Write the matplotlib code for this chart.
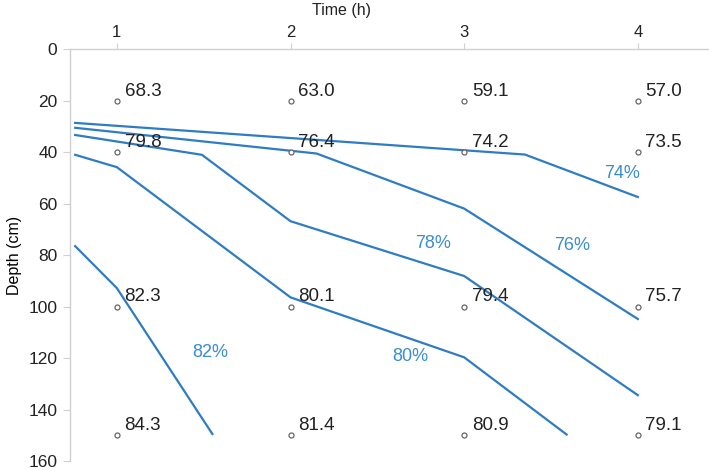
import matplotlib
matplotlib.use("Agg")
import matplotlib.pyplot as plt

plt.rcParams['font.family'] = ['Liberation Sans', 'DejaVu Sans']

# Grid of measurements
times = [1, 2, 3, 4]
depths = [20, 40, 100, 150]
values = [
    [68.3, 63.0, 59.1, 57.0],
    [79.8, 76.4, 74.2, 73.5],
    [82.3, 80.1, 79.4, 75.7],
    [84.3, 81.4, 80.9, 79.1],
]

# Contour lines (time, depth)
c74_t = [0.76, 3.35, 4.0]
c74_d = [28.6, 40.9, 57.4]
c76_t = [0.76, 2.15, 3.0, 4.0]
c76_d = [30.5, 40.5, 61.9, 104.8]
c78_t = [0.76, 1.49, 2.0, 3.0, 4.0]
c78_d = [33.3, 41.0, 66.8, 88.1, 134.4]
c80_t = [0.76, 1.0, 2.0, 3.0, 3.59]
c80_d = [41.0, 45.8, 96.4, 119.7, 149.7]
c82_t = [0.76, 1.0, 1.55]
c82_d = [76.5, 92.8, 149.5]

contour_labels = ['74%', '76%', '78%', '80%', '82%']
label_t = [3.91, 3.62, 2.82, 2.69, 1.54]
label_d = [48.2, 76.4, 75.4, 119.2, 117.9]

y_ticks = [0, 20, 40, 60, 80, 100, 120, 140, 160]

line_color = '#2e7cc4'
label_color = '#3a8cd2'

fig = plt.figure(figsize=(7.09, 4.70), dpi=100)
ax = fig.add_axes([0.0987, 0.0191, 0.9013, 0.876])

for t, d in [(c74_t, c74_d), (c76_t, c76_d), (c78_t, c78_d), (c80_t, c80_d), (c82_t, c82_d)]:
    ax.plot(t, d, color=line_color, lw=1.6, solid_joinstyle='miter', zorder=2)

for txt, t, d in zip(contour_labels, label_t, label_d):
    ax.text(t, d, txt, color=label_color, fontsize=13, ha='center', va='center', zorder=3)

for i, d in enumerate(depths):
    for j, t in enumerate(times):
        ax.plot(t, d, 'o', ms=3.6, mfc='white', mec='#666666', mew=0.9, zorder=4)
        ax.annotate(f"{values[i][j]:.1f}", (t, d), xytext=(5.5, 7), textcoords='offset points',
                    ha='left', va='center', fontsize=13.5, color='#222222', zorder=5)

ax.set_xlim(0.73, 4.41)
ax.set_ylim(160, 0)
ax.xaxis.tick_top()
ax.set_xticks(times)
ax.set_yticks(y_ticks)
ax.set_ylabel('Depth (cm)', fontsize=11.5, labelpad=5)
fig.text(342 / 709, 1 - 11 / 470, 'Time (h)', fontsize=11.5, ha='center', va='center', color='#222222')

for s in ['bottom', 'right']:
    ax.spines[s].set_visible(False)
for s in ['top', 'left']:
    ax.spines[s].set_color('#d0d0d0')
    ax.spines[s].set_linewidth(1.0)

ax.tick_params(axis='y', direction='out', length=5, color='#d0d0d0', labelsize=12.5, pad=4, labelcolor='#222222')
ax.tick_params(axis='x', direction='out', length=4, color='#d0d0d0', labelsize=12, pad=3, labelcolor='#222222')

fig.savefig('out.png', dpi=100)
